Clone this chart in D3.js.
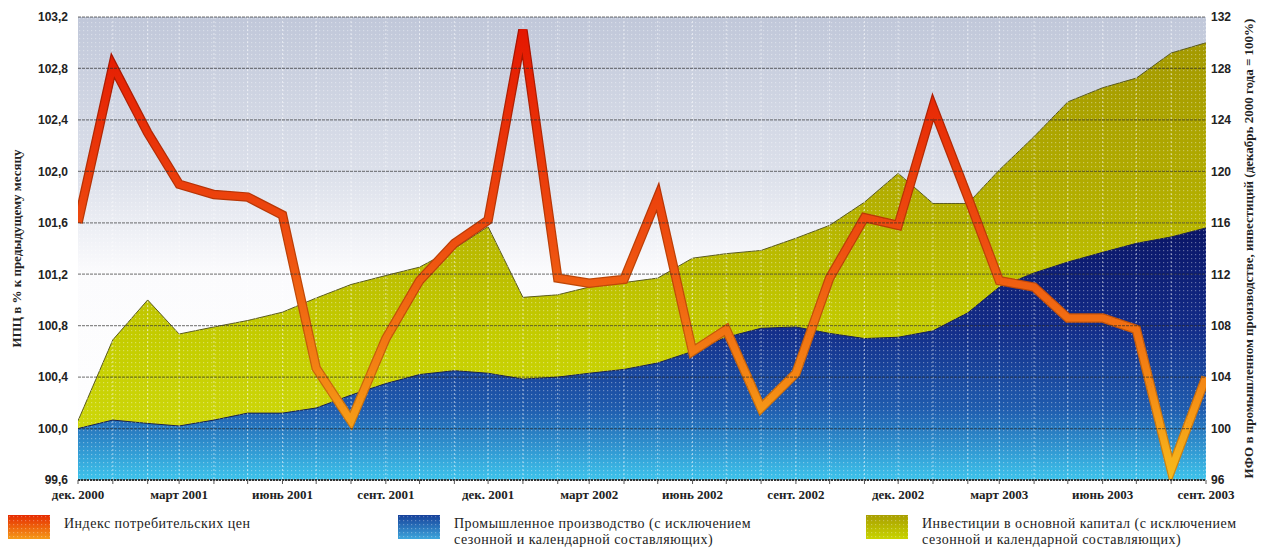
<!DOCTYPE html>
<html>
<head>
<meta charset="utf-8">
<script src="https://cdn.jsdelivr.net/npm/d3@7"></script>
<style>
  body { margin: 0; background: #fff; }
  svg { display: block; font-family: "Liberation Serif", "DejaVu Serif", serif; }
  .axis text { font-size: 12px; font-weight: bold; fill: #222; }
  .axis--x text { font-size: 13px; }
  .axis path { display: none; }
  .legend text { font-size: 14px; letter-spacing: 0.5px; fill: #222; }
</style>
</head>
<body>
<svg></svg>
<script>
var months = ["2000-12","2001-01","2001-02","2001-03","2001-04","2001-05","2001-06","2001-07","2001-08","2001-09","2001-10","2001-11",
              "2001-12","2002-01","2002-02","2002-03","2002-04","2002-05","2002-06","2002-07","2002-08","2002-09","2002-10","2002-11",
              "2002-12","2003-01","2003-02","2003-03","2003-04","2003-05","2003-06","2003-07","2003-08","2003-09"];

// ИПЦ, % к предыдущему месяцу (левая ось)
var cpi = [101.6, 102.82, 102.3, 101.9, 101.82, 101.8, 101.66, 100.47, 100.06, 100.7, 101.15, 101.44,
           101.62, 103.1, 101.17, 101.13, 101.16, 101.8, 100.6, 100.77, 100.16, 100.43, 101.17, 101.64,
           101.58, 102.5, 101.8, 101.15, 101.1, 100.86, 100.86, 100.77, 99.68, 100.4];

// промышленное производство, дек. 2000 = 100 (правая ось)
var industry = [100.0, 100.66, 100.4, 100.2, 100.66, 101.2, 101.2, 101.6, 102.6, 103.5, 104.2, 104.5,
                104.3, 103.85, 104.0, 104.3, 104.6, 105.1, 106.0, 107.1, 107.8, 107.9, 107.4, 107.0,
                107.1, 107.6, 109.0, 111.0, 112.1, 112.95, 113.7, 114.4, 114.9, 115.6];

// инвестиции в основной капитал, дек. 2000 = 100 (правая ось)
var invest = [100.6, 106.9, 110.0, 107.35, 107.9, 108.4, 109.05, 110.15, 111.2, 111.9, 112.55, 114.0,
              115.7, 110.2, 110.4, 111.0, 111.35, 111.7, 113.25, 113.6, 113.85, 114.8, 115.8, 117.6,
              119.85, 117.5, 117.5, 120.1, 122.7, 125.4, 126.5, 127.25, 129.2, 130.0];

var leftTicks = [99.6, 100.0, 100.4, 100.8, 101.2, 101.6, 102.0, 102.4, 102.8, 103.2];
var rightTicks = [96, 100, 104, 108, 112, 116, 120, 124, 128, 132];
var xTickMonths = ["2000-12","2001-03","2001-06","2001-09","2001-12","2002-03","2002-06","2002-09","2002-12","2003-03","2003-06","2003-09"];
var xTickLabels = ["дек. 2000","март 2001","июнь 2001","сент. 2001","дек. 2001","март 2002","июнь 2002","сент. 2002","дек. 2002","март 2003","июнь 2003","сент. 2003"];

var legendLabels = [["Индекс потребительских цен"],
                    ["Промышленное производство (с исключением", "сезонной и календарной составляющих)"],
                    ["Инвестиции в основной капитал (с исключением", "сезонной и календарной составляющих)"]];

(function () {
  var width = 1261, height = 560;
  var margin = {top: 17, right: 55, bottom: 80, left: 78};
  var pw = width - margin.left - margin.right;
  var ph = height - margin.top - margin.bottom;

  var svg = d3.select("svg").attr("width", width).attr("height", height);
  var parse = d3.timeParse("%Y-%m");

  var data = months.map(function (m, i) {
    return {date: parse(m), cpi: cpi[i], ind: industry[i], inv: invest[i]};
  });

  var x = d3.scaleTime()
        .domain(d3.extent(data, function (d) { return d.date; }))
        .range([0, pw]);
  var yL = d3.scaleLinear().domain([99.6, 103.2]).range([ph, 0]);
  var yR = d3.scaleLinear().domain([96, 132]).range([ph, 0]);

  var defs = svg.append("defs");

  function grad(id, stops, y1, y2) {
    var g = defs.append("linearGradient").attr("id", id)
          .attr("gradientUnits", "userSpaceOnUse")
          .attr("x1", 0).attr("x2", 0).attr("y1", y1).attr("y2", y2);
    stops.forEach(function (s) {
      g.append("stop").attr("offset", s[0]).attr("stop-color", s[1]);
    });
  }
  grad("bgGrad", [[0, "#c0c7d9"], [0.35, "#dde1eb"], [0.55, "#fbfbfd"], [1, "#ffffff"]], 0, ph);
  grad("blueGrad", [[0, "#0a1566"], [0.4, "#132c88"], [0.72, "#1f5cae"], [1, "#3ec4ec"]], 210, ph);
  grad("yellowGrad", [[0, "#a39800"], [0.35, "#b2ad00"], [0.7, "#c5ce00"], [1, "#d2dc10"]], 20, ph);
  grad("lineGrad", [[0, "#e41400"], [0.5, "#ee5010"], [0.8, "#f48a14"], [1, "#f8bc1c"]], 0, ph);
  grad("lineEdge", [[0, "#a80e00"], [0.6, "#c04a08"], [1, "#d08a10"]], 0, ph);

  // swatch gradients (bounding box units)
  function sgrad(id, c1, c2) {
    var g = defs.append("linearGradient").attr("id", id)
          .attr("x1", 0).attr("x2", 0).attr("y1", 0).attr("y2", 1);
    g.append("stop").attr("offset", 0).attr("stop-color", c1);
    g.append("stop").attr("offset", 1).attr("stop-color", c2);
  }
  sgrad("swRed", "#e62a00", "#f59a18");
  sgrad("swBlue", "#16409a", "#3da6dc");
  sgrad("swYellow", "#a89e00", "#c8d400");

  var pat = defs.append("pattern").attr("id", "dots")
        .attr("patternUnits", "userSpaceOnUse")
        .attr("width", 4).attr("height", 4);
  pat.append("rect").attr("x", 1).attr("y", 1).attr("width", 1.2).attr("height", 1.2).attr("fill", "#fff");

  defs.append("clipPath").attr("id", "clip")
    .append("rect").attr("width", pw).attr("height", ph);

  var g = svg.append("g").attr("transform", "translate(" + margin.left + "," + margin.top + ")");

  g.append("rect").attr("width", pw).attr("height", ph).attr("fill", "url(#bgGrad)");

  var plot = g.append("g").attr("clip-path", "url(#clip)");

  var areaInv = d3.area()
        .x(function (d) { return x(d.date); })
        .y0(ph)
        .y1(function (d) { return yR(d.inv); });
  var areaInd = d3.area()
        .x(function (d) { return x(d.date); })
        .y0(ph)
        .y1(function (d) { return yR(d.ind); });

  plot.append("path").datum(data).attr("d", areaInv).attr("fill", "url(#yellowGrad)");
  plot.append("path").datum(data)
    .attr("d", d3.line().x(function (d) { return x(d.date); }).y(function (d) { return yR(d.inv); }))
    .attr("fill", "none").attr("stroke", "#5a5a20").attr("stroke-width", 1);

  plot.append("path").datum(data).attr("d", areaInd).attr("fill", "url(#blueGrad)");
  plot.append("path").datum(data)
    .attr("d", d3.line().x(function (d) { return x(d.date); }).y(function (d) { return yR(d.ind); }))
    .attr("fill", "none").attr("stroke", "#1a2050").attr("stroke-width", 1);

  // dotted texture
  plot.append("rect").attr("width", pw).attr("height", ph)
    .attr("fill", "url(#dots)").attr("opacity", 0.35);

  // vertical monthly lines
  plot.append("g").selectAll("line")
    .data(data.slice(1))
    .enter().append("line")
    .attr("x1", function (d) { return x(d.date); })
    .attr("x2", function (d) { return x(d.date); })
    .attr("y1", 0).attr("y2", ph)
    .attr("stroke", "#ffffff").attr("stroke-opacity", 0.55)
    .attr("stroke-dasharray", "2,2");

  // horizontal grid
  g.append("g").attr("class", "grid")
    .selectAll("line")
    .data(leftTicks)
    .enter().append("line")
    .attr("x1", 0).attr("x2", pw)
    .attr("y1", function (d) { return yL(d); })
    .attr("y2", function (d) { return yL(d); })
    .attr("stroke", "#2a2a2a")
    .attr("stroke-opacity", function (d, i) { return i === leftTicks.length - 1 ? 0.45 : 0.55; })
    .attr("stroke-width", function (d, i) { return i === leftTicks.length - 1 ? 1.5 : 1.2; })
    .attr("stroke-dasharray", "3,1");

  // CPI line
  var line = d3.line()
        .x(function (d) { return x(d.date); })
        .y(function (d) { return yL(d.cpi); });
  plot.append("path").datum(data).attr("d", line)
    .attr("fill", "none").attr("stroke", "url(#lineEdge)")
    .attr("stroke-width", 9.5).attr("stroke-linejoin", "miter");
  plot.append("path").datum(data).attr("d", line)
    .attr("fill", "none").attr("stroke", "url(#lineGrad)")
    .attr("stroke-width", 7).attr("stroke-linejoin", "miter");

  // axes
  g.append("g").attr("class", "axis axis--left")
    .call(d3.axisLeft(yL).tickValues(leftTicks).tickSize(0).tickPadding(10)
          .tickFormat(function (d) { return d3.format(".1f")(d).replace(".", ","); }));

  g.append("g").attr("class", "axis axis--right")
    .attr("transform", "translate(" + pw + ",0)")
    .call(d3.axisRight(yR).tickValues(rightTicks).tickSize(0).tickPadding(5)
          .tickFormat(d3.format("d")));

  var xAxis = g.append("g").attr("class", "axis axis--x")
        .attr("transform", "translate(0," + ph + ")");
  xAxis.append("line").attr("x1", 0).attr("x2", pw)
    .attr("stroke", "#333").attr("stroke-width", 2).attr("stroke-dasharray", "2,1");
  xAxis.selectAll(".mtick")
    .data(data)
    .enter().append("line").attr("class", "mtick")
    .attr("x1", function (d) { return x(d.date); })
    .attr("x2", function (d) { return x(d.date); })
    .attr("y1", 0).attr("y2", 4)
    .attr("stroke", "#555");
  xAxis.selectAll("text")
    .data(xTickMonths)
    .enter().append("text")
    .attr("x", function (d) { return x(parse(d)); })
    .attr("y", 19)
    .attr("text-anchor", "middle")
    .text(function (d, i) { return xTickLabels[i]; });

  // axis titles
  svg.append("text")
    .attr("transform", "translate(21," + (margin.top + ph / 2) + ") rotate(-90)")
    .attr("text-anchor", "middle")
    .attr("font-size", 13).attr("font-weight", "bold").attr("fill", "#222")
    .text("ИПЦ в % к предыдущему месяцу");
  svg.append("text")
    .attr("transform", "translate(1253," + (margin.top + ph / 2) + ") rotate(-90)")
    .attr("text-anchor", "middle")
    .attr("font-size", 13).attr("font-weight", "bold").attr("fill", "#222")
    .text("ИФО в промышленном производстве, инвестиций (декабрь 2000 года = 100%)");

  // legend
  var legendX = [8, 398, 866];
  var swatches = ["url(#swRed)", "url(#swBlue)", "url(#swYellow)"];
  var legend = svg.append("g").attr("class", "legend")
        .attr("transform", "translate(0,515)");
  var item = legend.selectAll("g")
        .data(legendLabels)
        .enter().append("g")
        .attr("transform", function (d, i) { return "translate(" + legendX[i] + ",0)"; });
  item.append("rect")
    .attr("width", 42).attr("height", 24)
    .attr("fill", function (d, i) { return swatches[i]; });
  item.append("rect")
    .attr("width", 42).attr("height", 24)
    .attr("fill", "url(#dots)").attr("opacity", 0.3);
  item.append("text")
    .attr("x", 56).attr("y", 13)
    .selectAll("tspan")
    .data(function (d) { return d; })
    .enter().append("tspan")
    .attr("x", 56)
    .attr("dy", function (d, i) { return i === 0 ? 0 : 16; })
    .text(function (d) { return d; });
})();
</script>
</body>
</html>
